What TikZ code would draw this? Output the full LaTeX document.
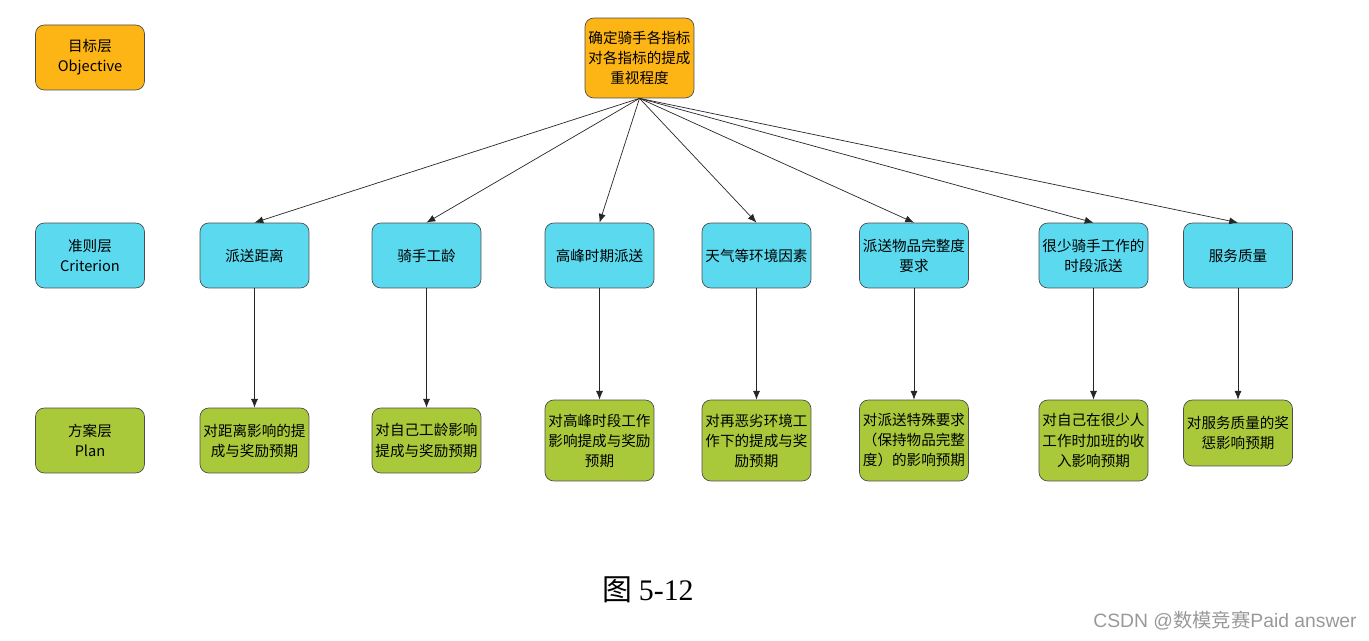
\documentclass[tikz,border=0pt]{standalone}
\usepackage{fontspec}
\setmainfont{Noto Sans CJK SC}
\newfontfamily\cjk{Noto Sans CJK SC}
\newfontfamily\capfont{Liberation Serif}
\newfontfamily\markfont{Liberation Sans}
\usepackage{tikz}
\definecolor{color01}{HTML}{FDB515}
\definecolor{color02}{HTML}{5AD9EF}
\definecolor{color03}{HTML}{A9C93A}
\usetikzlibrary{arrows.meta}

\begin{document}
\begin{tikzpicture}[x=0.02cm,y=-0.02cm]

  \tikzstyle{box} = [%
  align=center,
  draw=black!70,
  font=\fontsize{8.3}{11.4}\selectfont,
  inner sep=1pt,
  minimum width=2.18cm,
  minimum height=1.3cm,
  rectangle,
  rounded corners=5pt,
  thin,
  ];
  \tikzstyle{link} = [%
  draw=black!85,
  -{Latex[length=5pt,width=4pt]},
  ];

  \useasboundingbox (0,0) rectangle (1369,641);

  % layer names
  \node[box,fill=color01] (objective) at (90,57.5) {目标层\\Objective};
  \node[box,fill=color02] (criterion) at (90,255.5) {准则层\\Criterion};
  \node[box,fill=color03] (plan) at (90,440.5) {方案层\\Plan};

  % goal
  \node[box,fill=color01,minimum height=1.6cm] (goal) at (639.5,58)
    {确定骑手各指标\\对各指标的提成\\重视程度};

  % criteria
  \node[box,fill=color02] (crit1) at (254.5,255.5) {派送距离};
  \node[box,fill=color02] (crit2) at (426.5,255.5) {骑手工龄};
  \node[box,fill=color02] (crit3) at (599.5,255.5) {高峰时期派送};
  \node[box,fill=color02] (crit4) at (756.5,255.5) {天气等环境因素};
  \node[box,fill=color02] (crit5) at (914,255.5) {派送物品完整度\\要求};
  \node[box,fill=color02] (crit6) at (1093.5,255.5) {很少骑手工作的\\时段派送};
  \node[box,fill=color02] (crit7) at (1238,255.5) {服务质量};

  % plans
  \node[box,fill=color03] (plan1) at (254.5,440.5) {对距离影响的提\\成与奖励预期};
  \node[box,fill=color03] (plan2) at (426.5,440.5) {对自己工龄影响\\提成与奖励预期};
  \node[box,fill=color03,minimum height=1.62cm] (plan3) at (599.5,440.5)
    {对高峰时段工作\\影响提成与奖励\\预期};
  \node[box,fill=color03,minimum height=1.62cm] (plan4) at (756.5,440.5)
    {对再恶劣环境工\\作下的提成与奖\\励预期};
  \node[box,fill=color03,minimum height=1.62cm] (plan5) at (914,440.5)
    {对派送特殊要求\\（保持物品完整\\度）的影响预期};
  \node[box,fill=color03,minimum height=1.62cm] (plan6) at (1093.5,440.5)
    {对自己在很少人\\工作时加班的收\\入影响预期};
  \node[box,fill=color03,minimum height=1.32cm] (plan7) at (1238,433)
    {对服务质量的奖\\惩影响预期};

  \foreach \i in {1,...,7} {
    \draw[link] (goal.south) -- (crit\i.north);
    \draw[link] (crit\i.south) -- (plan\i.north);
  }

  \node (caption) at (648,590) {\fontsize{17}{17}\selectfont 图 {\capfont 5-12}};
  \node[text=black!40,font=\markfont\fontsize{11}{11}\selectfont] (mark) at (1225,621)
    {CSDN @{\cjk 数模竞赛}Paid answer};

\end{tikzpicture}
\end{document}
